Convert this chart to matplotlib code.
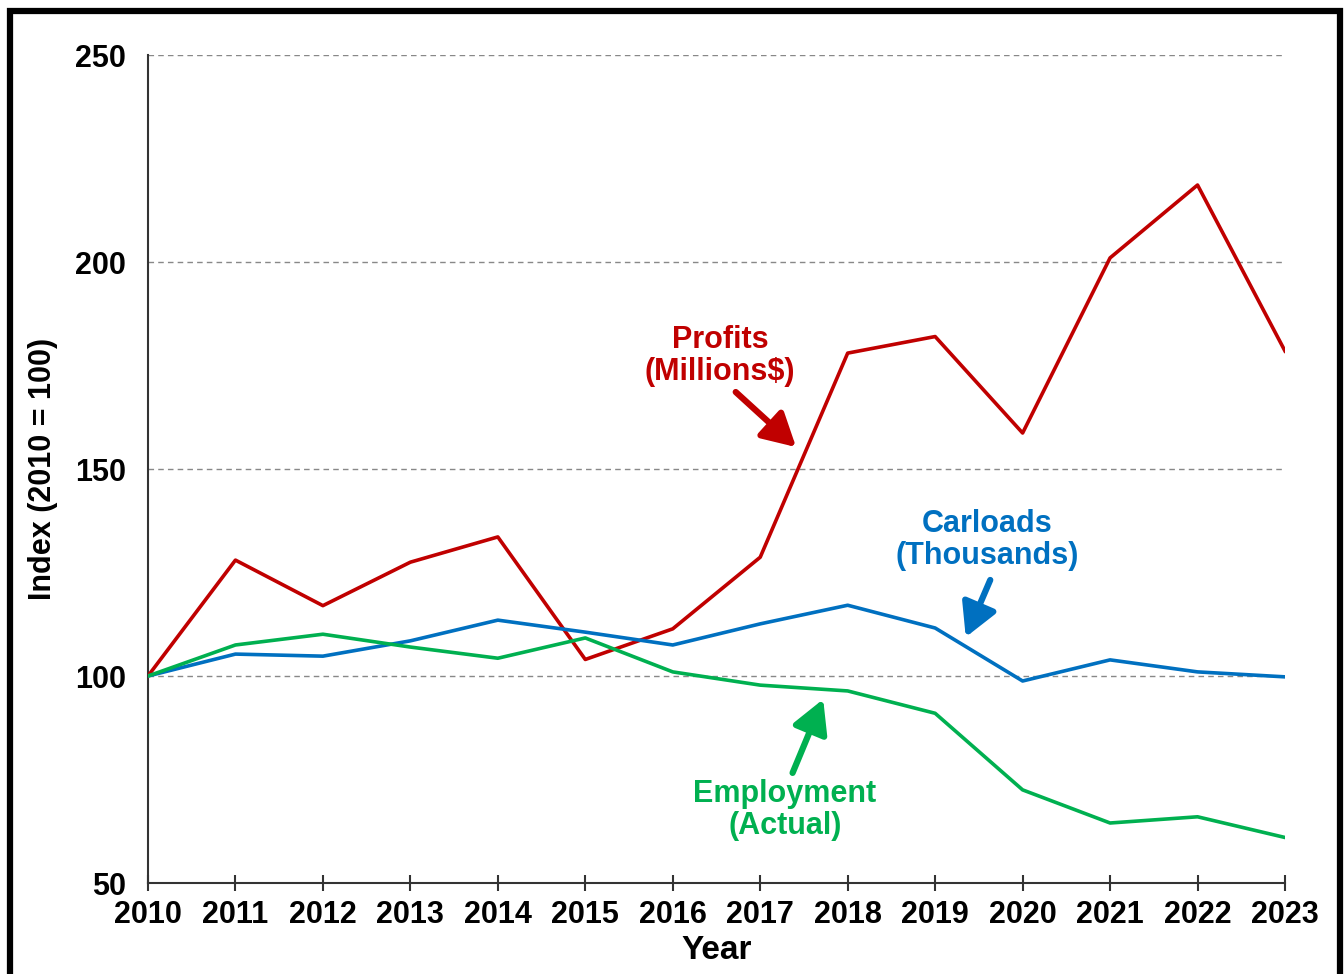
import matplotlib.pyplot as plt
from matplotlib.patches import Rectangle

plt.rcParams['font.family'] = ['Liberation Sans', 'DejaVu Sans']
plt.rcParams['font.weight'] = 'bold'

years = list(range(2010, 2024))
profits = [100, 128, 117, 127.5, 133.6, 104, 111.4, 128.7, 178, 182, 158.7, 201, 218.6, 178.5]
carloads = [100, 105.3, 104.8, 108.5, 113.5, 110.6, 107.5, 112.6, 117.1, 111.6, 98.8, 103.9, 101, 99.8]
employment = [100, 107.5, 110.1, 107, 104.3, 109.2, 101, 97.8, 96.4, 91, 72.5, 64.5, 66, 61]

RED = '#C00000'
BLUE = '#0070C0'
GREEN = '#00B050'


def arrow(ax, tip, tail, color):
    ax.annotate('', xy=tip, xytext=tail,
                arrowprops=dict(arrowstyle='-|>,head_length=1.0,head_width=0.55',
                                mutation_scale=20, color=color, lw=4.5,
                                shrinkA=0, shrinkB=0))


def main():
    fig = plt.figure(figsize=(13.44, 9.74), dpi=100)
    ax = fig.add_axes([0.1101, 0.0934, 0.846, 0.8501])

    ax.plot(years, profits, color=RED, linewidth=2.6, zorder=3)
    ax.plot(years, carloads, color=BLUE, linewidth=2.6, zorder=3)
    ax.plot(years, employment, color=GREEN, linewidth=2.6, zorder=3)

    ax.set_xlim(2010, 2023)
    ax.set_ylim(50, 250)
    ax.set_xticks(years)
    ax.set_yticks([50, 100, 150, 200, 250])

    ax.spines['top'].set_visible(False)
    ax.spines['right'].set_visible(False)
    ax.spines['bottom'].set_edgecolor('#333333')
    ax.spines['left'].set_edgecolor('#333333')
    ax.spines['bottom'].set_linewidth(1.5)
    ax.spines['left'].set_linewidth(1.5)

    ax.grid(axis='y', linestyle=(0, (4, 3)), color='#888888', linewidth=1)
    ax.set_axisbelow(True)

    ax.tick_params(axis='x', direction='inout', length=11, width=1.5, color='#333333',
                   labelsize=22, pad=7)
    ax.tick_params(axis='y', length=0, labelsize=22, pad=16)
    for lbl in ax.get_xticklabels() + ax.get_yticklabels():
        lbl.set_fontweight('bold')

    ax.set_xlabel('Year', fontsize=24, fontweight='bold', labelpad=3)
    ax.set_ylabel('Index (2010 = 100)', fontsize=22, fontweight='bold', labelpad=12)

    # series labels with arrows
    ax.text(2016.54, 177.3, 'Profits\n(Millions$)', color=RED, fontsize=22,
            fontweight='bold', ha='center', va='center', linespacing=1.1)
    arrow(ax, (2017.41, 155.3), (2016.72, 168.6), RED)

    ax.text(2019.60, 132.9, 'Carloads\n(Thousands)', color=BLUE, fontsize=22,
            fontweight='bold', ha='center', va='center', linespacing=1.1)
    arrow(ax, (2019.35, 109.4), (2019.63, 123.2), BLUE)

    ax.text(2017.28, 67.6, 'Employment\n(Actual)', color=GREEN, fontsize=22,
            fontweight='bold', ha='center', va='center', linespacing=1.1)
    arrow(ax, (2017.72, 94.4), (2017.37, 76.6), GREEN)

    # outer frame
    fig.patches.append(Rectangle((0.0074, -0.02), 0.9896, 1.0087, transform=fig.transFigure,
                                 fill=False, edgecolor='black', linewidth=4.5))

    fig.savefig('out.png', dpi=100)


if __name__ == '__main__':
    main()
